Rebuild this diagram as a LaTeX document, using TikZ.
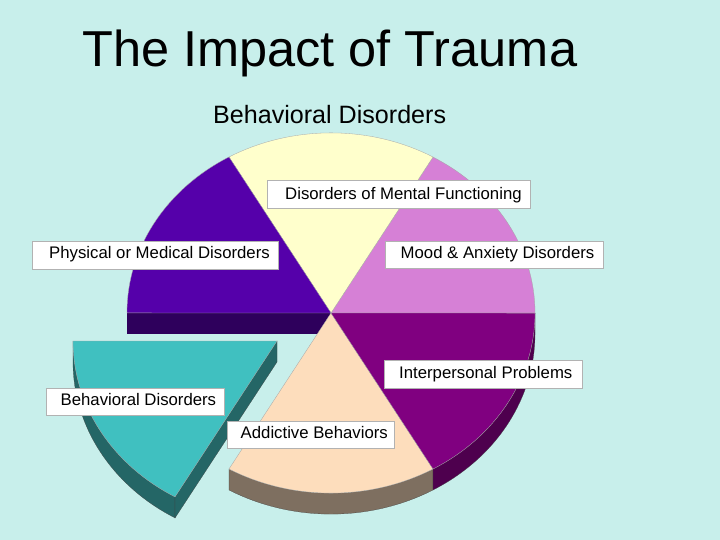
\documentclass[tikz,border=0pt]{standalone}
\usepackage{fontspec}
\setmainfont{Liberation Sans}
\definecolor{bgc}{RGB}{200,239,235}
\definecolor{cyel}{RGB}{255,255,204}
\definecolor{cpink}{RGB}{214,128,214}
\definecolor{cdpur}{RGB}{128,0,128}
\definecolor{cdpurw}{RGB}{78,0,78}
\definecolor{cpeach}{RGB}{253,221,188}
\definecolor{cpeachw}{RGB}{126,111,96}
\definecolor{cteal}{RGB}{64,192,192}
\definecolor{ctealw}{RGB}{36,102,102}
\definecolor{cpur}{RGB}{85,0,170}
\definecolor{cpurw}{RGB}{46,0,92}
\tikzset{
  slice/.style={draw=gray!70, line width=0.3pt},
  wall/.style={draw=gray!50!black, line width=0.2pt},
  lblbox/.style={draw=gray!60, fill=white, line width=0.5pt, inner sep=0pt, anchor=north west},
  lbltext/.style={anchor=base west, inner sep=0pt, font=\fontsize{16.75}{18}\selectfont},
}
\begin{document}
\begin{tikzpicture}[x=1pt,y=-1pt]
\fill[bgc] (0,0) rectangle (720,540);
\useasboundingbox (0,0) rectangle (720,540);

% title
\node[anchor=base west, inner sep=0pt, font=\fontsize{50.5}{56}\selectfont] (title) at (82,67) {The Impact of Trauma};
\node[anchor=base west, inner sep=0pt, font=\fontsize{25.1}{28}\selectfont] (sub) at (213,124) {Behavioral Disorders};

% exploded teal slice
\coordinate (T) at (277,341);
\fill[ctealw, wall] (73,341) arc[start angle=-180, end angle=-240, x radius=204, y radius=180] -- ++(0,21) arc[start angle=-240, end angle=-180, x radius=204, y radius=180] -- cycle;
\fill[ctealw, wall] (T) -- (175,497) -- (175,518) -- (277,362) -- cycle;
\filldraw[fill=cteal, slice] (T) -- (73,341) arc[start angle=-180, end angle=-240, x radius=204, y radius=180] -- cycle;

% main pie
\coordinate (C) at (331,313);
\fill[cpurw] (127,313) rectangle (331,334);
\fill[cpeachw, wall] (229,469) arc[start angle=-240, end angle=-300, x radius=204, y radius=180] -- ++(0,21) arc[start angle=-300, end angle=-240, x radius=204, y radius=180] -- cycle;
\fill[cdpurw, wall] (433,469) arc[start angle=-300, end angle=-360, x radius=204, y radius=180] -- ++(0,21) arc[start angle=-360, end angle=-300, x radius=204, y radius=180] -- cycle;

\filldraw[fill=cpink, slice] (C) -- (535,313) arc[start angle=0, end angle=-60, x radius=204, y radius=180] -- cycle;
\filldraw[fill=cyel, slice] (C) -- (433,157) arc[start angle=-60, end angle=-120, x radius=204, y radius=180] -- cycle;
\filldraw[fill=cpur, slice] (C) -- (229,157) arc[start angle=-120, end angle=-180, x radius=204, y radius=180] -- cycle;
\filldraw[fill=cpeach, slice] (C) -- (229,469) arc[start angle=-240, end angle=-300, x radius=204, y radius=180] -- cycle;
\filldraw[fill=cdpur, slice] (C) -- (433,469) arc[start angle=-300, end angle=-360, x radius=204, y radius=180] -- cycle;

% labels
\node[lblbox, minimum width=263pt, minimum height=28.5pt] (b1) at (267,180) {};
\node[lbltext] (t1) at (285,200) {Disorders of Mental Functioning};
\node[lblbox, minimum width=246pt, minimum height=27.5pt] (b2) at (32,241) {};
\node[lbltext] (t2) at (49,258.5) {Physical or Medical Disorders};
\node[lblbox, minimum width=217.5pt, minimum height=27pt] (b3) at (385,241) {};
\node[lbltext] (t3) at (400.5,258.5) {Mood \& Anxiety Disorders};
\node[lblbox, minimum width=197.5pt, minimum height=27.5pt] (b4) at (384,360) {};
\node[lbltext] (t4) at (399,378.3) {Interpersonal Problems};
\node[lblbox, minimum width=177.5pt, minimum height=27.5pt] (b5) at (46,387.5) {};
\node[lbltext] (t5) at (60.5,405) {Behavioral Disorders};
\node[lblbox, minimum width=167pt, minimum height=27.5pt] (b6) at (227.3,420.8) {};
\node[lbltext] (t6) at (240.5,438.3) {Addictive Behaviors};
\end{tikzpicture}
\end{document}
